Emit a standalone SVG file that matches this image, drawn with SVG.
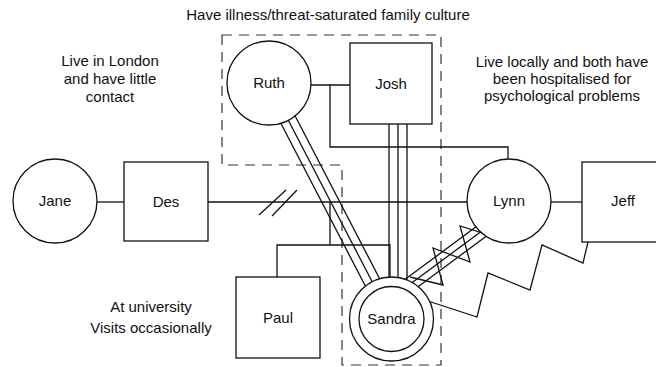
<svg xmlns="http://www.w3.org/2000/svg" width="656" height="367" viewBox="0 0 656 367">
<style>
.ln{fill:none;stroke:#111;stroke-width:1.3}
.nd{fill:#fff;stroke:#111;stroke-width:1.3}
.dash{fill:none;stroke:#333;stroke-width:1.2;stroke-dasharray:10 7}
.t{font-family:"Liberation Sans",Arial,sans-serif;font-size:15px;fill:#111;text-anchor:middle}
</style>
<rect width="656" height="367" fill="#fff"/>
<g id="boundary">
<path class="dash" d="M222,35 H441 V365 H342 V165 H222 Z"/>
</g>
<g id="connectors">
<line class="ln" x1="97" y1="202" x2="124" y2="202"/>
<line class="ln" x1="208" y1="202" x2="467" y2="202"/>
<line class="ln" x1="259" y1="215" x2="286" y2="190"/>
<line class="ln" x1="272" y1="216" x2="297" y2="190"/>
<line class="ln" x1="311" y1="85" x2="350" y2="85"/>
<polyline class="ln" points="330,85 330,147 508,147 508,160"/>
<line class="ln" x1="551" y1="202" x2="582" y2="202"/>
<line class="ln" x1="330" y1="202" x2="330" y2="245"/>
<polyline class="ln" points="277,277 277,245 390,245 390,290"/>
<line class="ln" x1="261.9" y1="86.7" x2="384.4" y2="322.7"/>
<line class="ln" x1="269" y1="83" x2="391.5" y2="319"/>
<line class="ln" x1="276.1" y1="79.3" x2="398.6" y2="315.3"/>
<line class="ln" x1="389" y1="124" x2="389" y2="300"/>
<line class="ln" x1="398" y1="124" x2="398" y2="300"/>
<line class="ln" x1="407" y1="124" x2="407" y2="300"/>
<line class="ln" x1="395" y1="286.8" x2="500" y2="209.1"/>
<line class="ln" x1="395" y1="295.3" x2="500" y2="217.6"/>
<line class="ln" x1="395" y1="303.8" x2="500" y2="226.1"/>
<polyline class="ln" points="495,237 460,226 470,262 433,248 443,285 410,277"/>
<polyline class="ln" points="588,242 583,263 542,245 530,290 488,273 477,317 428,301"/>
</g>
<g id="jane"><circle class="nd" cx="55" cy="201" r="42"/><text class="t" x="55" y="206">Jane</text></g>
<g id="des"><rect class="nd" x="124" y="162" width="84" height="79"/><text class="t" x="166" y="207">Des</text></g>
<g id="ruth"><circle class="nd" cx="269" cy="83" r="42"/><text class="t" x="269" y="88">Ruth</text></g>
<g id="josh"><rect class="nd" x="350" y="43" width="82" height="81"/><text class="t" x="391" y="89">Josh</text></g>
<g id="lynn"><circle class="nd" cx="509" cy="201" r="42"/><text class="t" x="509" y="206">Lynn</text></g>
<g id="jeff"><rect class="nd" x="582" y="162" width="82" height="80"/><text class="t" x="623" y="206">Jeff</text></g>
<g id="paul"><rect class="nd" x="236" y="277" width="84" height="81"/><text class="t" x="278" y="323">Paul</text></g>
<g id="sandra"><circle class="nd" cx="391.5" cy="319" r="42"/><circle class="nd" cx="391.5" cy="319" r="32.5"/><text class="t" x="391.5" y="324">Sandra</text></g>
<g id="labels">
<text class="t" x="328" y="20">Have illness/threat-saturated family culture</text>
<text class="t" x="110" y="66">Live in London</text>
<text class="t" x="110" y="84">and have little</text>
<text class="t" x="110" y="102">contact</text>
<text class="t" x="562" y="67">Live locally and both have</text>
<text class="t" x="562" y="84">been hospitalised for</text>
<text class="t" x="562" y="101">psychological problems</text>
<text class="t" x="151" y="312">At university</text>
<text class="t" x="151" y="333">Visits occasionally</text>
</g>
</svg>
